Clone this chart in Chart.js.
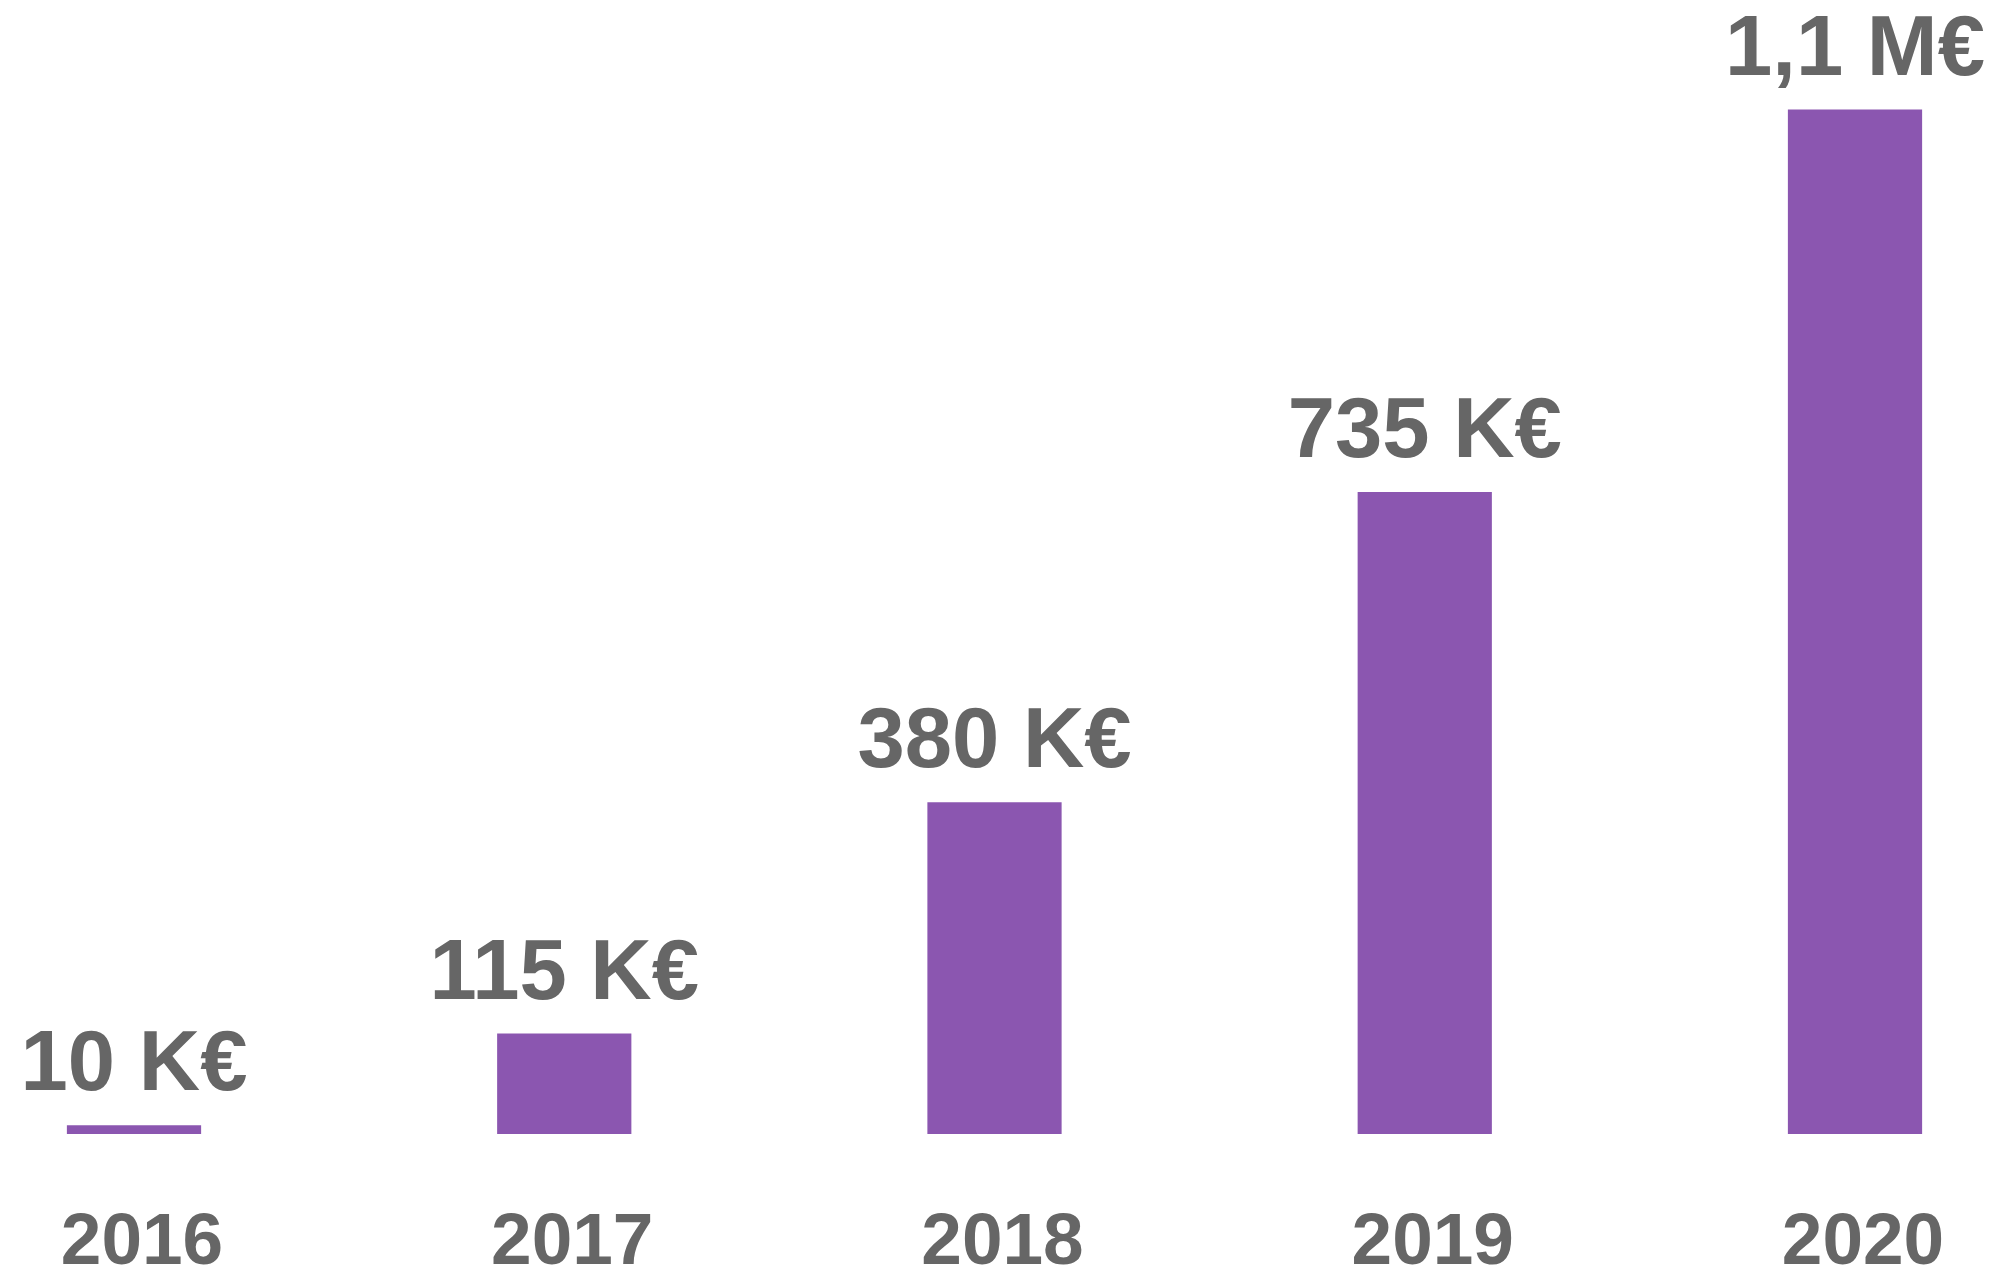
<!DOCTYPE html>
<html>
<head>
<meta charset="utf-8">
<script src="https://cdn.jsdelivr.net/npm/chart.js@4.4.0/dist/chart.umd.min.js"></script>
<style>
  html, body { margin: 0; padding: 0; background: #ffffff; overflow: hidden; }
  /* canvas runs a little below the window so the year labels sit where they should */
  #wrap { position: relative; width: 2003px; height: 1354px; }
</style>
</head>
<body>
<div id="wrap"><canvas id="revenueChart"></canvas></div>
<script>
// Chart data (values in K€)
const years = ["2016", "2017", "2018", "2019", "2020"];
const revenue = [10, 115, 380, 735, 1173];
const valueLabels = ["10 K€", "115 K€", "380 K€", "735 K€", "1,1 M€"];

const textColor = "#666666";
const barColor = "#8B56B0";

// Custom plugin: value label above each bar
const valueLabelPlugin = {
  id: "valueLabels",
  afterDatasetsDraw: function (chart) {
    const ctx = chart.ctx;
    const meta = chart.getDatasetMeta(0);
    ctx.save();
    ctx.fillStyle = textColor;
    ctx.font = "bold 85px 'Liberation Sans', Arial, sans-serif";
    ctx.textAlign = "center";
    ctx.textBaseline = "alphabetic";
    meta.data.forEach(function (bar, i) {
      ctx.fillText(valueLabels[i], bar.x, bar.y - 35);
    });
    ctx.restore();
  },
};

const revenueCtx = document.getElementById("revenueChart").getContext("2d");
const revenueChart = new Chart(revenueCtx, {
  type: "bar",
  data: {
    labels: years,
    datasets: [
      {
        label: "Revenue",
        data: revenue,
        backgroundColor: barColor,
        borderWidth: 0,
        categoryPercentage: 1,
        barPercentage: 0.312,
        clip: false,
      },
    ],
  },
  options: {
    responsive: true,
    maintainAspectRatio: false,
    animation: false,
    layout: {
      padding: { left: 134, right: 148, top: 10, bottom: 0 },
    },
    plugins: {
      legend: { display: false },
      tooltip: { enabled: false },
    },
    scales: {
      x: {
        offset: false,
        grid: { display: false, drawTicks: false },
        border: { display: false },
        ticks: {
          color: textColor,
          padding: 0,
          labelOffset: 8,
          maxRotation: 0,
          autoSkip: false,
          font: {
            family: "'Liberation Sans', Arial, sans-serif",
            size: 73,
            weight: "bold",
            lineHeight: "220px",
          },
        },
      },
      y: {
        display: false,
        min: 0,
        max: 1287,
      },
    },
  },
  plugins: [valueLabelPlugin],
});
</script>
</body>
</html>
